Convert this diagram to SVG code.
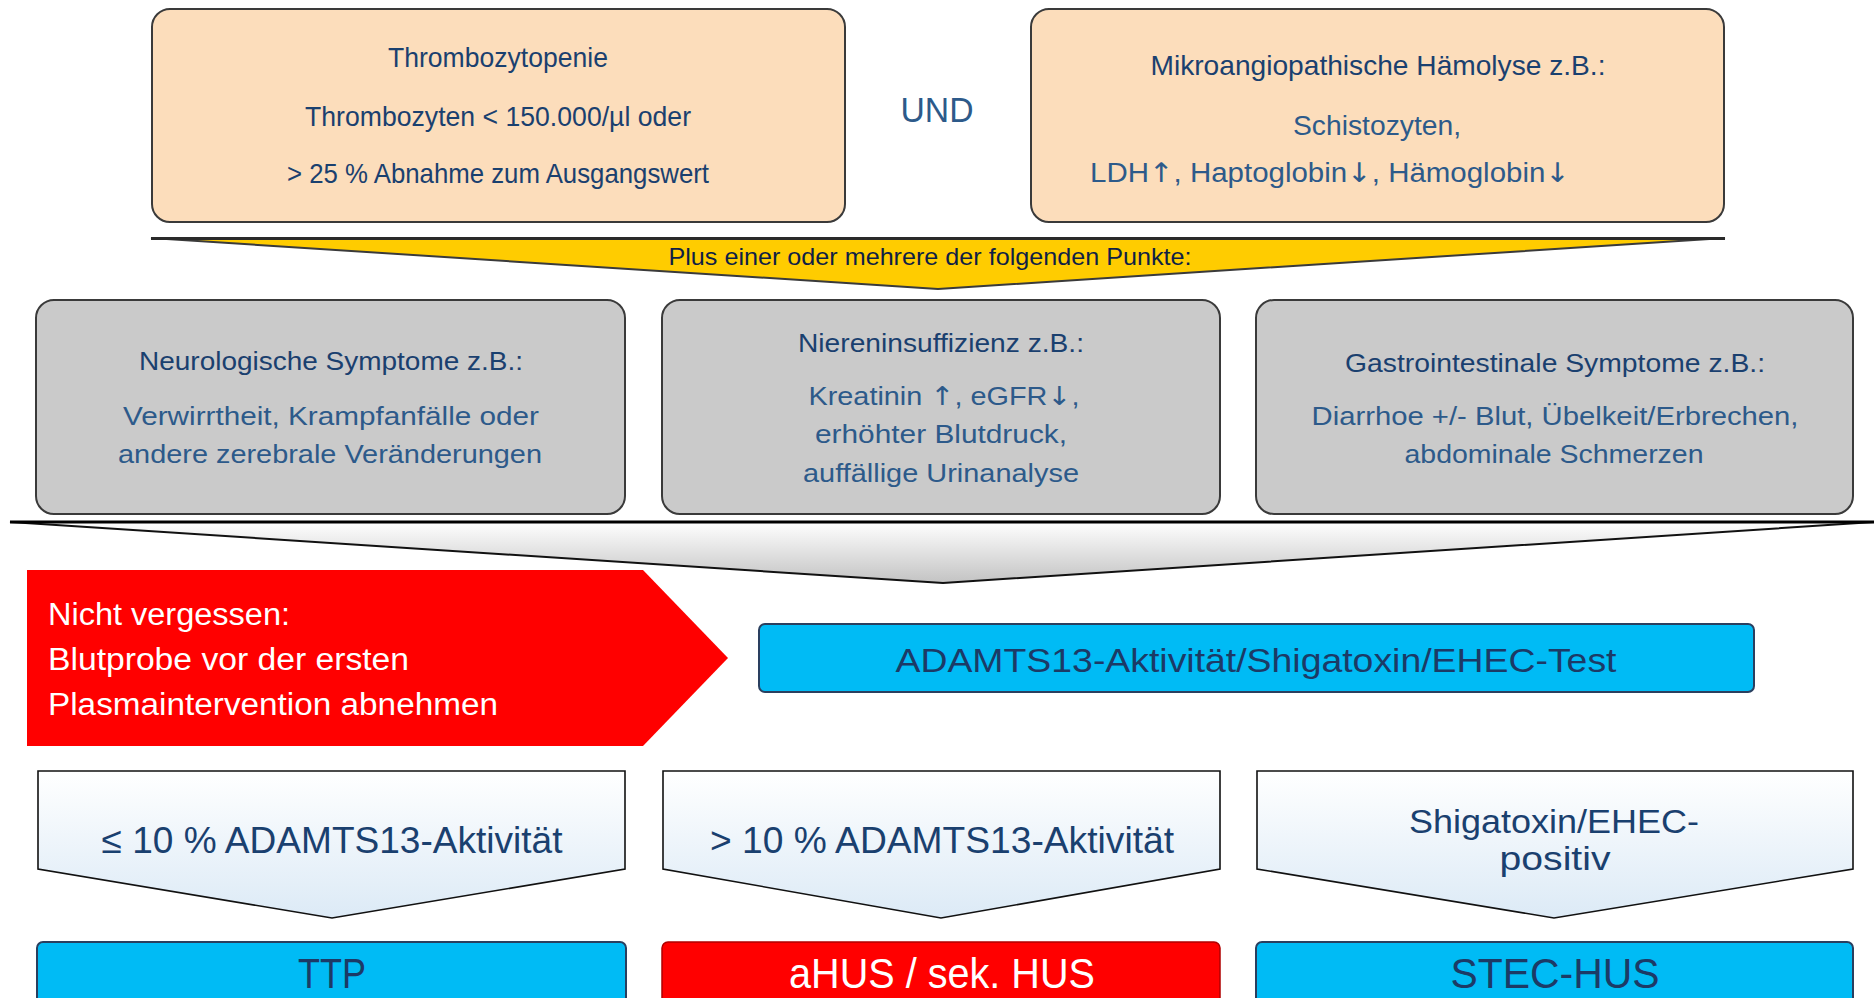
<svg xmlns="http://www.w3.org/2000/svg" width="1874" height="998" viewBox="0 0 1874 998">
<style>
text{font-family:"Liberation Sans",Arial,sans-serif;}
.ar{font-family:"DejaVu Sans",sans-serif;}
.peach{fill:#FCDDBB;stroke:#3A3A3A;stroke-width:2;}
.gray{fill:#CACACA;stroke:#3A3A3A;stroke-width:2;}
.blue{fill:#00BBF5;stroke:#2A3F5F;stroke-width:2;}
.red{fill:#FF0000;}
.pent{fill:url(#gPent);stroke:#111;stroke-width:1.6;}
.h{fill:#1A406F;text-anchor:middle;}
.b{fill:#2D5A8A;text-anchor:middle;}
.w{fill:#FFFFFF;}
.n{fill:#1C3A66;text-anchor:middle;}
</style>
<defs>
<linearGradient id="gPent" x1="0" y1="0" x2="0" y2="1">
<stop offset="0" stop-color="#FFFFFF"/>
<stop offset="1" stop-color="#DCEAF6"/>
</linearGradient>
<linearGradient id="gWedge" gradientUnits="userSpaceOnUse" x1="0" y1="522" x2="0" y2="584">
<stop offset="0" stop-color="#FFFFFF"/>
<stop offset="1" stop-color="#C2C2C2"/>
</linearGradient>
</defs>
<rect width="1874" height="998" fill="#FFFFFF"/>

<g id="node-thrombozytopenie">
<rect class="peach" x="152" y="9" width="693" height="213" rx="18"/>
<text class="h" x="498" y="67" font-size="28" textLength="220" lengthAdjust="spacingAndGlyphs">Thrombozytopenie</text>
<text class="h" x="498" y="126" font-size="28" textLength="386" lengthAdjust="spacingAndGlyphs">Thrombozyten &lt; 150.000/µl oder</text>
<text class="h" x="498" y="183" font-size="28" textLength="422" lengthAdjust="spacingAndGlyphs">&gt; 25 % Abnahme zum Ausgangswert</text>
</g>

<g id="node-und">
<text class="b" x="937" y="122" font-size="35" textLength="73" lengthAdjust="spacingAndGlyphs">UND</text>
</g>

<g id="node-haemolyse">
<rect class="peach" x="1031" y="9" width="693" height="213" rx="18"/>
<text class="h" x="1378" y="75" font-size="28" textLength="455" lengthAdjust="spacingAndGlyphs">Mikroangiopathische Hämolyse z.B.:</text>
<text class="b" x="1377" y="135" font-size="27" textLength="168" lengthAdjust="spacingAndGlyphs">Schistozyten,</text>
<text class="b" x="1330" y="182" font-size="27" textLength="480" lengthAdjust="spacingAndGlyphs">LDH<tspan class="ar">↑</tspan>, Haptoglobin<tspan class="ar">↓</tspan>, Hämoglobin<tspan class="ar">↓</tspan></text>
</g>

<g id="node-plus">
<polygon points="151,238 1725,238 938,289" fill="#FFCC00" stroke="#3A3A3A" stroke-width="2" stroke-linejoin="miter"/>
<line x1="151" y1="238.5" x2="1725" y2="238.5" stroke="#2A2A2A" stroke-width="3"/>
<text x="930" y="265" font-size="24" fill="#0F1F45" text-anchor="middle" textLength="523" lengthAdjust="spacingAndGlyphs">Plus einer oder mehrere der folgenden Punkte:</text>
</g>

<g id="node-neuro">
<rect class="gray" x="36" y="300" width="589" height="214" rx="18"/>
<text class="h" x="331" y="370" font-size="26" textLength="384" lengthAdjust="spacingAndGlyphs">Neurologische Symptome z.B.:</text>
<text class="b" x="331" y="425" font-size="26" textLength="416" lengthAdjust="spacingAndGlyphs">Verwirrtheit, Krampfanfälle oder</text>
<text class="b" x="330" y="463" font-size="26" textLength="424" lengthAdjust="spacingAndGlyphs">andere zerebrale Veränderungen</text>
</g>

<g id="node-niere">
<rect class="gray" x="662" y="300" width="558" height="214" rx="18"/>
<text class="h" x="941" y="352" font-size="26" textLength="286" lengthAdjust="spacingAndGlyphs">Niereninsuffizienz z.B.:</text>
<text class="b" x="944" y="405" font-size="26" textLength="271" lengthAdjust="spacingAndGlyphs">Kreatinin <tspan class="ar">↑</tspan>, eGFR<tspan class="ar">↓</tspan>,</text>
<text class="b" x="941" y="443" font-size="26" textLength="252" lengthAdjust="spacingAndGlyphs">erhöhter Blutdruck,</text>
<text class="b" x="941" y="482" font-size="26" textLength="276" lengthAdjust="spacingAndGlyphs">auffällige Urinanalyse</text>
</g>

<g id="node-gastro">
<rect class="gray" x="1256" y="300" width="597" height="214" rx="18"/>
<text class="h" x="1555" y="372" font-size="26" textLength="420" lengthAdjust="spacingAndGlyphs">Gastrointestinale Symptome z.B.:</text>
<text class="b" x="1555" y="425" font-size="26" textLength="487" lengthAdjust="spacingAndGlyphs">Diarrhoe +/- Blut, Übelkeit/Erbrechen,</text>
<text class="b" x="1554" y="463" font-size="26" textLength="299" lengthAdjust="spacingAndGlyphs">abdominale Schmerzen</text>
</g>

<g id="connectors">
<polygon points="10,522 1874,522 943,583" fill="url(#gWedge)" stroke="#111" stroke-width="2"/>
<line x1="10" y1="522" x2="1874" y2="522" stroke="#000" stroke-width="3"/>
</g>

<g id="node-hinweis">
<polygon class="red" points="27,570 643,570 728,658 643,746 27,746"/>
<text class="w" x="48" y="625" font-size="31" textLength="242" lengthAdjust="spacingAndGlyphs">Nicht vergessen:</text>
<text class="w" x="48" y="670" font-size="31" textLength="361" lengthAdjust="spacingAndGlyphs">Blutprobe vor der ersten</text>
<text class="w" x="48" y="715" font-size="31" textLength="450" lengthAdjust="spacingAndGlyphs">Plasmaintervention abnehmen</text>
</g>

<g id="node-test">
<rect class="blue" x="759" y="624" width="995" height="68" rx="6"/>
<text class="n" x="1256" y="672" font-size="33" textLength="721" lengthAdjust="spacingAndGlyphs">ADAMTS13-Aktivität/Shigatoxin/EHEC-Test</text>
</g>

<g id="node-le10">
<polygon class="pent" points="38,771 625,771 625,869 332,918 38,869"/>
<text class="h" x="332" y="853" font-size="37" textLength="461" lengthAdjust="spacingAndGlyphs">≤ 10 % ADAMTS13-Aktivität</text>
</g>

<g id="node-gt10">
<polygon class="pent" points="663,771 1220,771 1220,869 941,918 663,869"/>
<text class="h" x="942" y="853" font-size="37" textLength="464" lengthAdjust="spacingAndGlyphs">&gt; 10 % ADAMTS13-Aktivität</text>
</g>

<g id="node-stec-pos">
<polygon class="pent" points="1257,771 1853,771 1853,869 1554,918 1257,869"/>
<text class="h" x="1554" y="833" font-size="33" textLength="290" lengthAdjust="spacingAndGlyphs">Shigatoxin/EHEC-</text>
<text class="h" x="1555" y="870" font-size="33" textLength="111" lengthAdjust="spacingAndGlyphs">positiv</text>
</g>

<g id="node-ttp">
<rect class="blue" x="37" y="942" width="589" height="80" rx="6"/>
<text class="n" x="332" y="988" font-size="43" textLength="68" lengthAdjust="spacingAndGlyphs">TTP</text>
</g>

<g id="node-ahus">
<rect x="662" y="942" width="558" height="80" rx="6" fill="#FF0000" stroke="#B00000" stroke-width="1.5"/>
<text class="w" x="942" y="988" font-size="43" text-anchor="middle" textLength="306" lengthAdjust="spacingAndGlyphs">aHUS / sek. HUS</text>
</g>

<g id="node-stec-hus">
<rect class="blue" x="1256" y="942" width="597" height="80" rx="6"/>
<text class="n" x="1555" y="988" font-size="43" textLength="209" lengthAdjust="spacingAndGlyphs">STEC-HUS</text>
</g>
</svg>
